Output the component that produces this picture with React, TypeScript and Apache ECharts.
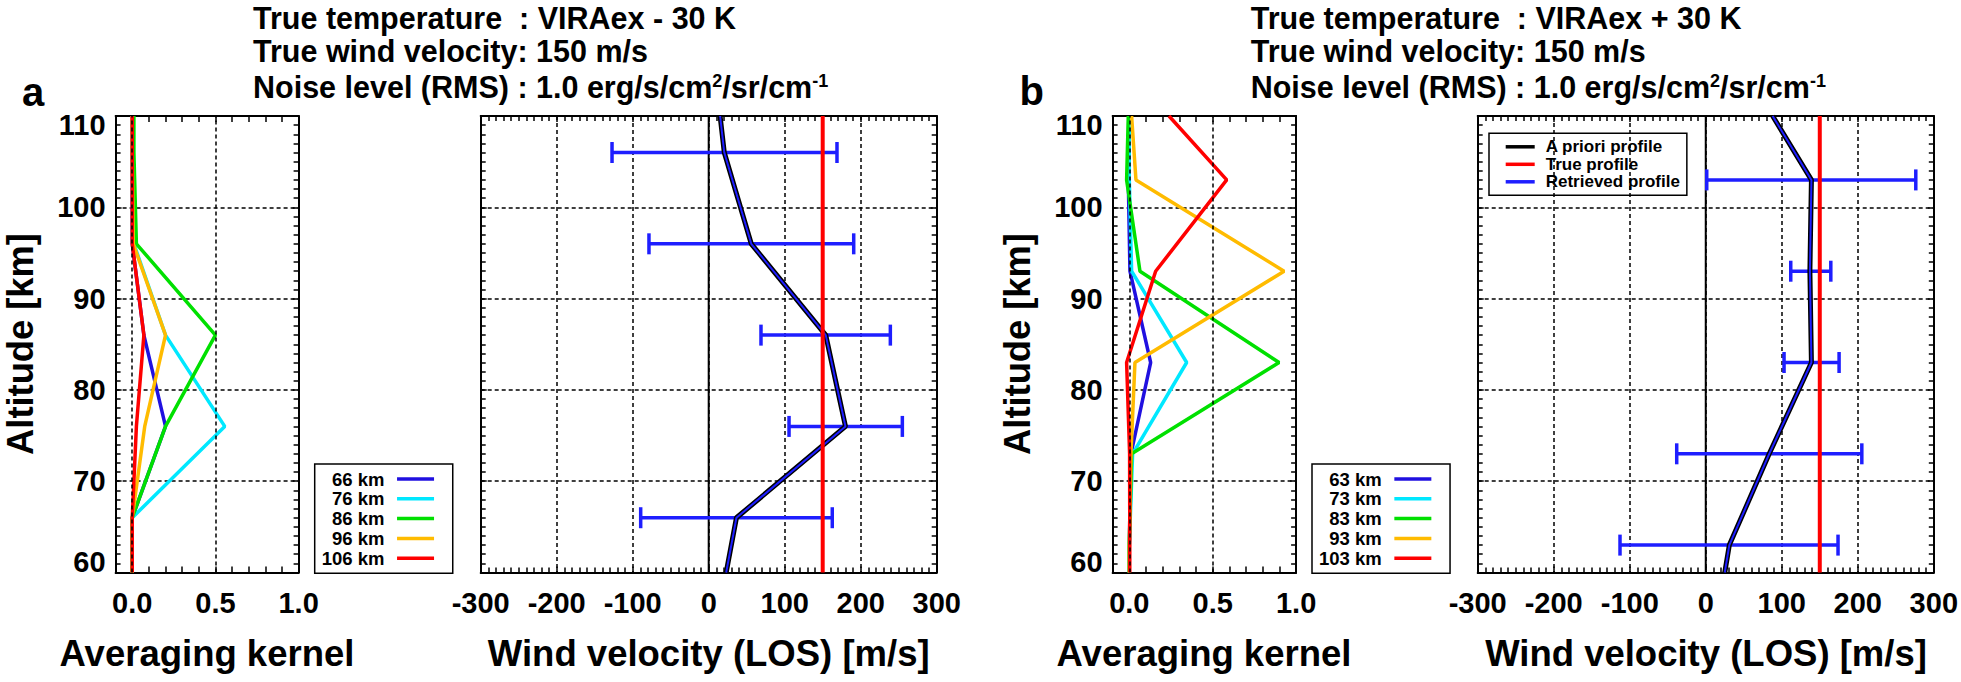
import React, { useEffect, useRef } from 'react';
import * as echarts from 'echarts';

// ---------- data ----------
const altMin = 60;
const altMax = 110;

const kernelAltA = [60, 66, 76, 86, 96, 106, 110];
const kernelNamesA = ['66 km', '76 km', '86 km', '96 km', '106 km'];
const kernelA66 = [0, 0, 0.2, 0.07, 0.0, 0.0, 0.0];
const kernelA76 = [0, 0, 0.556, 0.2, 0.01, 0.0, 0.0];
const kernelA86 = [0, 0, 0.2, 0.5, 0.025, 0.01, 0.01];
const kernelA96 = [0, 0, 0.075, 0.2, 0.006, 0.0, 0.0];
const kernelA106 = [0, 0, 0.025, 0.07, 0.0, 0.0, 0.0];
const kernelValuesA = [kernelA66, kernelA76, kernelA86, kernelA96, kernelA106];

const kernelAltB = [60, 63, 73, 83, 93, 103, 110];
const kernelNamesB = ['63 km', '73 km', '83 km', '93 km', '103 km'];
const kernelB63 = [0, 0, 0.01, 0.128, 0.004, -0.006, 0.0];
const kernelB73 = [0, 0, 0.02, 0.344, 0.014, 0.0, 0.0];
const kernelB83 = [0, 0, 0.014, 0.898, 0.064, -0.016, -0.006];
const kernelB93 = [0, 0, 0.01, 0.034, 0.928, 0.04, 0.014];
const kernelB103 = [0.003, 0.003, 0.002, -0.016, 0.158, 0.584, 0.238];
const kernelValuesB = [kernelB63, kernelB73, kernelB83, kernelB93, kernelB103];

const kernelTickValues = [0, 0.5, 1.0];
const kernelTickLabels = ['0.0', '0.5', '1.0'];

const windAltA = [60, 66, 76, 86, 96, 106, 110];
const retrievedA = [23, 36.5, 180, 154, 56, 20.5, 15];
const errAltA = [66, 76, 86, 96, 106];
const errLowA = [-89.5, 105.7, 68.8, -78.6, -127.2];
const errHighA = [162.6, 254.8, 239, 190.8, 168.8];

const windAltB = [60, 63, 73, 83, 93, 103, 110];
const retrievedB = [25, 31, 83.5, 139, 137, 139, 88];
const errAltB = [63, 73, 83, 93, 103];
const errLowB = [-112.8, -38.2, 103, 111.8, 1.3];
const errHighB = [174, 205.3, 175.4, 164.5, 276.3];

const trueWind = 150;
const aprioriWind = 0;
const windLegendNames = ['A priori profile', 'True profile', 'Retrieved profile'];

const titleA = ['True temperature\u00a0 : VIRAex - 30 K', 'True wind velocity: 150 m/s'];
const titleB = ['True temperature\u00a0 : VIRAex + 30 K', 'True wind velocity: 150 m/s'];
const noiseMain = 'Noise level (RMS) : 1.0 erg/s/cm';
const noiseSup1 = '2';
const noiseMid = '/sr/cm';
const noiseSup2 = '-1';

// ---------- styles ----------
const kernelColors = ['#2010e0', '#00e8ff', '#00e000', '#ffbb00', '#ff0000'];
const errColor = '#1e1eff';
const FONT = 'Liberation Sans';
const LAB_FONT = '"Liberation Sans"';
const PLOT_TOP = 116;
const PLOT_H = 456.5;

const tickFont = { fontFamily: FONT, fontWeight: 'bold' as const, fontSize: 29, color: '#000' };
const axisLine = { show: true, onZero: false, lineStyle: { color: '#000', width: 2 } };
const axisTick = { show: true, inside: true, length: 6, lineStyle: { color: '#000', width: 1.5 } };
const minorTick = { show: true, splitNumber: 10, length: 5, lineStyle: { color: '#000', width: 1.5 } };
const dashed = { color: '#000', width: 1.5, type: [4, 3] as number[] };

function kernelX(gridIndex: number, top: boolean) {
  return {
    type: 'value', gridIndex, position: top ? 'top' : 'bottom',
    min: -0.1, max: 1.0, interval: 0.1,
    axisLine, axisTick,
    splitLine: { show: false },
    axisLabel: {
      show: !top, margin: 16, ...tickFont, showMinLabel: true, showMaxLabel: true,
      formatter: (v: number) => {
        const i = kernelTickValues.findIndex((t) => Math.abs(t - v) < 1e-6);
        return i >= 0 ? kernelTickLabels[i] : '';
      },
    },
  };
}

function windX(gridIndex: number, top: boolean) {
  return {
    type: 'value', gridIndex, position: top ? 'top' : 'bottom',
    min: -300, max: 300, interval: 100,
    axisLine, axisTick, minorTick,
    splitLine: { show: !top, lineStyle: dashed },
    axisLabel: { show: !top, margin: 16, ...tickFont, showMinLabel: true, showMaxLabel: true },
  };
}

function altY(gridIndex: number, right: boolean, labels: boolean) {
  return {
    type: 'value', gridIndex, position: right ? 'right' : 'left',
    min: altMin, max: altMax, interval: 10,
    axisLine, axisTick, minorTick,
    splitLine: { show: !right, lineStyle: dashed },
    axisLabel: {
      show: labels && !right, margin: 10, ...tickFont,
      formatter: (v: number) => (v === altMax ? `{hi|${v}}` : v === altMin ? `{lo|${v}}` : `{n|${v}}`),
      rich: {
        n: { ...tickFont },
        hi: { ...tickFont, padding: [18, 0, 0, 0] },
        lo: { ...tickFont, padding: [0, 0, 21, 0] },
      },
    },
  };
}

function kernelSeries(names: string[], values: number[][], alts: number[], axis: number) {
  return names.map((name, i) => ({
    type: 'line', name, xAxisIndex: axis, yAxisIndex: axis,
    data: alts.map((a, j) => [values[i][j], a]),
    symbol: 'none', showSymbol: false,
    lineStyle: { width: 3.5, color: kernelColors[i] },
    itemStyle: { color: kernelColors[i] },
    z: 3,
    ...(i === 0
      ? {
          markLine: {
            silent: true, symbol: ['none', 'none'], label: { show: false },
            lineStyle: dashed, animation: false,
            data: kernelTickValues.slice(0, 2).map((v) => ({ xAxis: v })),
          },
        }
      : {}),
  }));
}

function errorRender(params: any, api: any) {
  const y = api.value(0);
  const p1 = api.coord([api.value(1), y]);
  const p2 = api.coord([api.value(2), y]);
  const h = 10.5;
  const st = { stroke: errColor, lineWidth: 3.5 };
  return {
    type: 'group',
    children: [
      { type: 'line', shape: { x1: p1[0], y1: p1[1], x2: p2[0], y2: p2[1] }, style: st },
      { type: 'line', shape: { x1: p1[0], y1: p1[1] - h, x2: p1[0], y2: p1[1] + h }, style: st },
      { type: 'line', shape: { x1: p2[0], y1: p2[1] - h, x2: p2[0], y2: p2[1] + h }, style: st },
    ],
  };
}

function windSeries(axis: number, alts: number[], retrieved: number[], eAlt: number[], eLo: number[], eHi: number[], suffix: string) {
  return [
    {
      type: 'line', name: windLegendNames[0] + suffix, xAxisIndex: axis, yAxisIndex: axis,
      data: [[aprioriWind, altMin], [aprioriWind, altMax]],
      symbol: 'none', lineStyle: { color: '#000', width: 2 }, itemStyle: { color: '#000' }, z: 2,
    },
    {
      type: 'custom', name: 'Error' + suffix, xAxisIndex: axis, yAxisIndex: axis,
      data: eAlt.map((a, i) => [a, eLo[i], eHi[i]]),
      encode: { x: [1, 2], y: 0 }, renderItem: errorRender, z: 3,
    },
    {
      type: 'line', name: 'Outline' + suffix, xAxisIndex: axis, yAxisIndex: axis,
      data: alts.map((a, i) => [retrieved[i], a]),
      symbol: 'none', lineStyle: { color: '#000', width: 5 }, itemStyle: { color: '#000' }, z: 4,
    },
    {
      type: 'line', name: windLegendNames[2] + suffix, xAxisIndex: axis, yAxisIndex: axis,
      data: alts.map((a, i) => [retrieved[i], a]),
      symbol: 'none', lineStyle: { color: errColor, width: 2 }, itemStyle: { color: errColor }, z: 5,
    },
    {
      type: 'line', name: windLegendNames[1] + suffix, xAxisIndex: axis, yAxisIndex: axis,
      data: [[trueWind, altMin], [trueWind, altMax]],
      symbol: 'none', lineStyle: { color: '#ff0000', width: 4 }, itemStyle: { color: '#ff0000' }, z: 6,
    },
  ];
}

function textEl(x: number, y: number, text: string, size: number, align: string, opts: any = {}) {
  return {
    type: 'text', x, y, rotation: opts.rotation ?? 0,
    z: 100,
    style: {
      text, font: `bold ${size}px ${LAB_FONT}`, fill: '#000',
      align, textAlign: align, verticalAlign: 'middle', textVerticalAlign: 'middle',
      ...(opts.rich ? { rich: opts.rich } : {}),
    },
  };
}

function titleBlock(x: number, lines: string[]) {
  const richMain = { font: `bold 30.5px ${LAB_FONT}`, fill: '#000' };
  const richSup = { font: `bold 18px ${LAB_FONT}`, fill: '#000', verticalAlign: 'top' };
  return [
    textEl(x, 17.5, lines[0], 30.5, 'left'),
    textEl(x, 51, lines[1], 30.5, 'left'),
    textEl(x, 87.3, `{m|${noiseMain}}{s|${noiseSup1}}{m|${noiseMid}}{s|${noiseSup2}}`, 30.5, 'left', {
      rich: { m: richMain, s: richSup },
    }),
  ];
}

function kernelLegend(names: string[], left: number) {
  return {
    data: names, orient: 'vertical', align: 'right', left, top: 464,
    icon: 'rect', itemWidth: 37, itemHeight: 3.5, itemGap: 0.8,
    padding: [5.5, 18.7, 5.5, 7], borderColor: '#000', borderWidth: 1.5,
    selectedMode: false,
    formatter: '{t|{name}}',
    textStyle: {
      fontFamily: FONT, fontWeight: 'bold', fontSize: 18.5, color: '#000',
      rich: { t: { fontFamily: FONT, fontWeight: 'bold', fontSize: 18.5, color: '#000', padding: [0, 7.6, 0, 0] } },
    },
  };
}

export default function App() {
  const ref = useRef<HTMLDivElement>(null);
  useEffect(() => {
    if (!ref.current) return;
    const chart = echarts.init(ref.current, undefined, { renderer: 'svg' });
    const option: any = {
      animation: false,
      backgroundColor: '#fff',
      textStyle: { fontFamily: FONT, fontWeight: 'bold' },
      grid: [
        { left: 115.6, top: PLOT_TOP, width: 183, height: PLOT_H },
        { left: 480.7, top: PLOT_TOP, width: 456, height: PLOT_H },
        { left: 1112.6, top: PLOT_TOP, width: 183.5, height: PLOT_H },
        { left: 1477.7, top: PLOT_TOP, width: 456.6, height: PLOT_H },
      ],
      xAxis: [
        kernelX(0, false), kernelX(0, true),
        windX(1, false), windX(1, true),
        kernelX(2, false), kernelX(2, true),
        windX(3, false), windX(3, true),
      ],
      yAxis: [
        altY(0, false, true), altY(0, true, false),
        altY(1, false, false), altY(1, true, false),
        altY(2, false, true), altY(2, true, false),
        altY(3, false, false), altY(3, true, false),
      ],
      legend: [
        kernelLegend(kernelNamesA, 314.7),
        kernelLegend(kernelNamesB, 1312),
        {
          data: windLegendNames, orient: 'vertical', align: 'left', left: 1489, top: 133.3,
          icon: 'rect', itemWidth: 29, itemHeight: 3.5, itemGap: 0.5,
          padding: [5, 7, 5, 16.7], borderColor: '#000', borderWidth: 1.5,
          selectedMode: false,
          formatter: '{t|{name}}',
          textStyle: {
            fontFamily: FONT, fontWeight: 'bold', fontSize: 17, color: '#000',
            rich: { t: { fontFamily: FONT, fontWeight: 'bold', fontSize: 17, color: '#000', padding: [0, 0, 0, 6] } },
          },
        },
      ],
      series: [
        ...kernelSeries(kernelNamesA, kernelValuesA, kernelAltA, 0),
        ...windSeries(2, windAltA, retrievedA, errAltA, errLowA, errHighA, ' a'),
        ...kernelSeries(kernelNamesB, kernelValuesB, kernelAltB, 4),
        ...windSeries(6, windAltB, retrievedB, errAltB, errLowB, errHighB, ''),
      ],
      graphic: [
        textEl(33, 91.5, 'a', 40, 'center'),
        textEl(1031.7, 91, 'b', 40, 'center'),
        ...titleBlock(253, titleA),
        ...titleBlock(1250.7, titleB),
        textEl(20.1, 344, 'Altitude [km]', 36.3, 'center', { rotation: Math.PI / 2 }),
        textEl(1017.4, 344, 'Altitude [km]', 36.3, 'center', { rotation: Math.PI / 2 }),
        textEl(207, 653, 'Averaging kernel', 36.5, 'center'),
        textEl(708.7, 653, 'Wind velocity (LOS) [m/s]', 36.5, 'center'),
        textEl(1204, 653, 'Averaging kernel', 36.5, 'center'),
        textEl(1706, 653, 'Wind velocity (LOS) [m/s]', 36.5, 'center'),
      ],
    };
    chart.setOption(option);
    return () => chart.dispose();
  }, []);
  return (
    <div
      ref={ref}
      style={{ position: 'absolute', left: 0, top: 0, width: 1961, height: 682, background: '#fff' }}
    />
  );
}
